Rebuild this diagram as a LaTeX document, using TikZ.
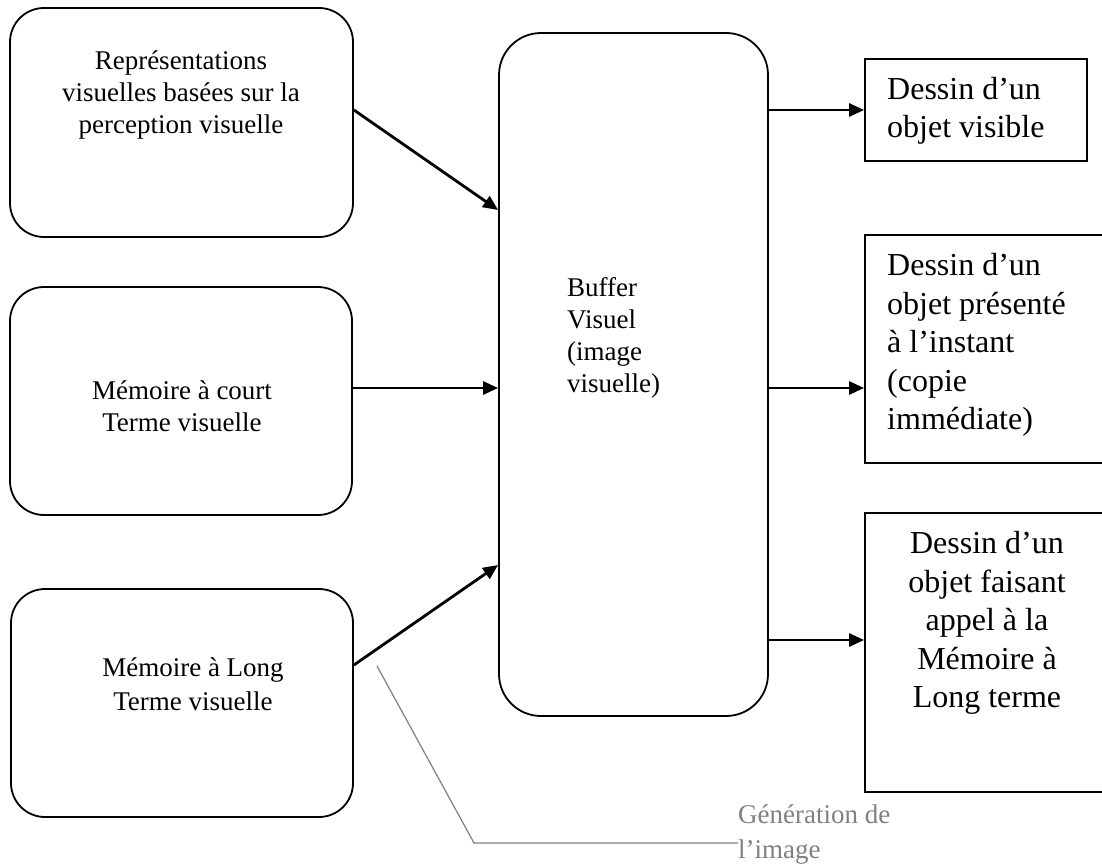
\documentclass[tikz,border=0pt]{standalone}
\usepackage{fontspec}
\setmainfont{Liberation Serif}
\usetikzlibrary{arrows.meta}
\begin{document}
\begin{tikzpicture}[x=1pt,y=-1pt,
  rbox/.style={draw, line width=1.8pt, rounded corners=34pt, inner sep=0pt},
  bufbox/.style={draw, line width=1.8pt, rounded corners=42pt, inner sep=0pt},
  sbox/.style={draw, line width=1.8pt, inner sep=0pt},
  arr/.style={line width=2.8pt, -{Triangle[length=15pt,width=13pt]}},
  lbl/.style={font=\fontsize{27}{32}\selectfont, align=center, inner sep=0pt},
  buflbl/.style={font=\fontsize{27}{32}\selectfont, align=left, inner sep=0pt, anchor=west},
  big/.style={font=\fontsize{32}{38.5}\selectfont, inner sep=0pt},
  graytxt/.style={font=\fontsize{27}{35}\selectfont, text=gray, align=left, inner sep=0pt, anchor=west},
  callout/.style={draw=gray, line width=1.2pt}]
\useasboundingbox (0,0) rectangle (1102,867);
\clip (0,0) rectangle (1102,867);
\fill[white] (0,0) rectangle (1102,867);

% left boxes
\node[rbox, minimum width=343pt, minimum height=229pt] (rep) at (181.5,122.5) {};
\node[rbox, minimum width=342pt, minimum height=228pt] (mct) at (181,401) {};
\node[rbox, minimum width=342pt, minimum height=228pt] (mlt) at (182,703) {};
\node[lbl] (repT) at (181,95) {Représentations\\visuelles basées sur la\\perception visuelle};
\node[lbl] (mctT) at (182,406) {Mémoire à court\\Terme visuelle};
\node[lbl, font=\fontsize{27}{34}\selectfont] (mltT) at (193,684) {Mémoire à Long\\Terme visuelle};

% buffer
\node[bufbox, minimum width=269pt, minimum height=683pt] (buf) at (633.5,374.5) {};
\node[buflbl] (bufT) at (567,338) {Buffer\\Visuel\\(image\\visuelle)};

% output boxes
\node[sbox, minimum width=222pt, minimum height=102pt] (o1) at (976,110) {};
\node[sbox, minimum width=244pt, minimum height=228pt] (o2) at (987,349) {};
\node[sbox, minimum width=244pt, minimum height=279pt] (o3) at (987,652.5) {};
\node[big, align=left, anchor=west] (o1T) at (887,111) {Dessin d’un\\objet visible};
\node[big, align=left, anchor=west] (o2T) at (887,345) {Dessin d’un\\objet présenté\\à l’instant\\(copie\\immédiate)};
\node[big, align=center] (o3T) at (987,623) {Dessin d’un\\objet faisant\\appel à la\\Mémoire à\\Long terme};

% arrows in
\draw[arr] (rep.east |- 0,110) -- (buf.west |- 0,210);
\draw[arr] (mct.east |- 0,388) -- (buf.west |- 0,388);
\draw[arr] (mlt.east |- 0,665) -- (buf.west |- 0,565);

% arrows out
\draw[arr] (buf.east |- 0,110) -- (o1.west |- 0,110);
\draw[arr] (buf.east |- 0,388) -- (o2.west |- 0,388);
\draw[arr] (buf.east |- 0,640) -- (o3.west |- 0,640);

% callout
\node[graytxt] (gen) at (738,835) {Génération de\\l’image};
\coordinate (c1) at (377,666);
\coordinate (c2) at (474,843);
\draw[callout] (c1) -- (c2) -- (gen.west |- c2);
\end{tikzpicture}
\end{document}
